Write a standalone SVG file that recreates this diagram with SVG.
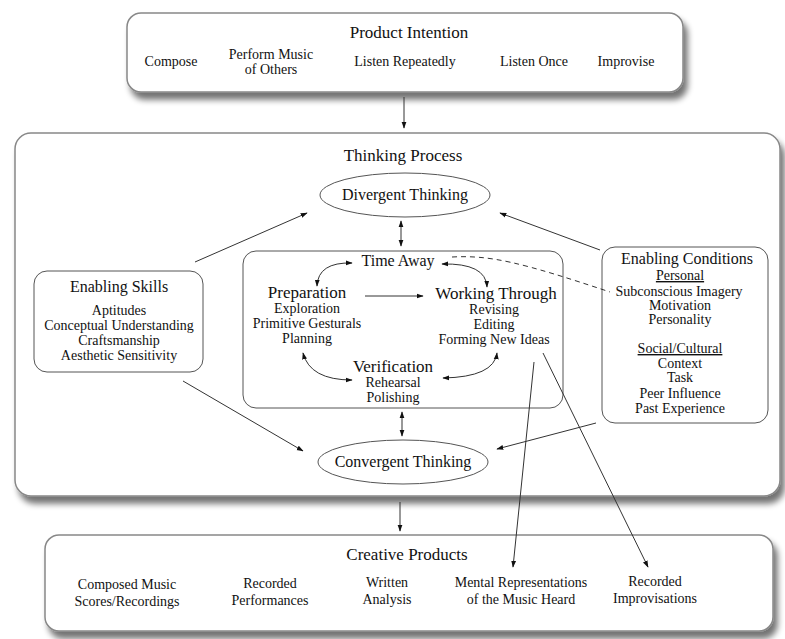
<svg xmlns="http://www.w3.org/2000/svg" width="785" height="639" viewBox="0 0 785 639" font-family="'Liberation Serif', 'DejaVu Serif', 'Times New Roman', serif">
<style>
text{font-family:"Liberation Serif","DejaVu Serif","Times New Roman",serif;fill:#111;text-anchor:middle}
.t17{font-size:17px}
.t16{font-size:16px}
.t14{font-size:14px}
.outer{fill:#fff;stroke:#888;stroke-width:1.5}
.inner{fill:#fff;stroke:#555;stroke-width:1}
.ln{fill:none;stroke:#333;stroke-width:1}
.arr{marker-end:url(#ah)}
.dbl{marker-end:url(#ah);marker-start:url(#ah)}
.u{text-decoration:underline}
</style>
<defs>
<marker id="ah" viewBox="0 0 10 10" refX="9" refY="5" markerWidth="7" markerHeight="7" orient="auto-start-reverse" markerUnits="userSpaceOnUse">
<path d="M0,1.5 L10,5 L0,8.5 z" fill="#111"/>
</marker>
<filter id="sh" x="-5%" y="-10%" width="115%" height="130%">
<feGaussianBlur in="SourceAlpha" stdDeviation="3"/>
<feOffset dx="4" dy="7" result="b"/>
<feComponentTransfer><feFuncA type="linear" slope="0.55"/></feComponentTransfer>
<feMerge><feMergeNode/><feMergeNode in="SourceGraphic"/></feMerge>
</filter>
</defs>

<g id="product-intention">
<rect class="outer" x="127" y="13" width="556" height="79" rx="14" filter="url(#sh)"/>
<text class="t17" x="409" y="38">Product Intention</text>
<text class="t14" x="171" y="66">Compose</text>
<text class="t14" x="271" y="59">Perform Music</text>
<text class="t14" x="271" y="74">of Others</text>
<text class="t14" x="405" y="66">Listen Repeatedly</text>
<text class="t14" x="534" y="66">Listen Once</text>
<text class="t14" x="626" y="66">Improvise</text>
</g>

<g id="thinking-process">
<rect class="outer" x="15" y="133" width="765" height="363" rx="16" filter="url(#sh)"/>
<text class="t17" x="403" y="161">Thinking Process</text>
</g>

<g id="divergent-thinking">
<ellipse class="inner" cx="405" cy="195" rx="85" ry="22"/>
<text class="t16" x="405" y="200">Divergent Thinking</text>
</g>

<g id="convergent-thinking">
<ellipse class="inner" cx="403" cy="462" rx="85" ry="22"/>
<text class="t16" x="403" y="467">Convergent Thinking</text>
</g>

<g id="creative-cycle">
<rect class="inner" x="243" y="251" width="320" height="157" rx="13"/>
</g>

<g id="time-away">
<text class="t16" x="398" y="266">Time Away</text>
</g>

<g id="preparation">
<text class="t17" x="307" y="298">Preparation</text>
<text class="t14" x="307" y="313">Exploration</text>
<text class="t14" x="307" y="328">Primitive Gesturals</text>
<text class="t14" x="307" y="343">Planning</text>
</g>

<g id="working-through">
<text class="t17" x="496" y="299">Working Through</text>
<text class="t14" x="494" y="314">Revising</text>
<text class="t14" x="494" y="329">Editing</text>
<text class="t14" x="494" y="344">Forming New Ideas</text>
</g>

<g id="verification">
<text class="t17" x="393" y="372">Verification</text>
<text class="t14" x="393" y="387">Rehearsal</text>
<text class="t14" x="393" y="402">Polishing</text>
</g>

<g id="enabling-skills">
<rect class="inner" x="34" y="271" width="169" height="101" rx="13"/>
<text class="t16" x="119" y="292">Enabling Skills</text>
<text class="t14" x="119" y="315">Aptitudes</text>
<text class="t14" x="119" y="330">Conceptual Understanding</text>
<text class="t14" x="119" y="345">Craftsmanship</text>
<text class="t14" x="119" y="360">Aesthetic Sensitivity</text>
</g>

<g id="enabling-conditions">
<rect class="inner" x="602" y="247" width="166" height="176" rx="13"/>
<text class="t16" x="687" y="264">Enabling Conditions</text>
<text class="t14 u" x="680" y="280">Personal</text>
<text class="t14" x="679" y="296">Subconscious Imagery</text>
<text class="t14" x="680" y="310">Motivation</text>
<text class="t14" x="680" y="324">Personality</text>
<text class="t14 u" x="680" y="353">Social/Cultural</text>
<text class="t14" x="680" y="368">Context</text>
<text class="t14" x="680" y="382">Task</text>
<text class="t14" x="680" y="398">Peer Influence</text>
<text class="t14" x="680" y="413">Past Experience</text>
</g>

<g id="creative-products">
<rect class="outer" x="45" y="535" width="728" height="96" rx="14" filter="url(#sh)"/>
<text class="t17" x="407" y="560">Creative Products</text>
<text class="t14" x="127" y="589">Composed Music</text>
<text class="t14" x="127" y="606">Scores/Recordings</text>
<text class="t14" x="270" y="588">Recorded</text>
<text class="t14" x="270" y="605">Performances</text>
<text class="t14" x="387" y="587">Written</text>
<text class="t14" x="387" y="604">Analysis</text>
<text class="t14" x="521" y="587">Mental Representations</text>
<text class="t14" x="521" y="604">of the Music Heard</text>
<text class="t14" x="655" y="586">Recorded</text>
<text class="t14" x="655" y="603">Improvisations</text>
</g>

<g id="connectors">
<line class="ln arr" x1="404" y1="97" x2="404" y2="128"/>
<line class="ln dbl" x1="401" y1="221" x2="401" y2="246"/>
<line class="ln dbl" x1="402" y1="412" x2="402" y2="436"/>
<line class="ln arr" x1="400" y1="502" x2="400" y2="531"/>
<line class="ln arr" x1="195" y1="262" x2="307" y2="213"/>
<line class="ln arr" x1="600" y1="250" x2="500" y2="213"/>
<line class="ln arr" x1="183" y1="381" x2="303" y2="451"/>
<line class="ln arr" x1="596" y1="423" x2="497" y2="449"/>
<line class="ln arr" x1="365" y1="296" x2="423" y2="296"/>
<path class="ln dbl" d="M352,263 Q318,262 317,286"/>
<path class="ln dbl" d="M442,264 Q486,263 487,287"/>
<path class="ln dbl" d="M303,353 Q310,380 352,380"/>
<path class="ln dbl" d="M443,378 Q494,377 497,353"/>
<path class="ln" d="M452,257 C490,255 520,262 610,292" stroke-dasharray="5,4" stroke-width="1.4"/>
<line class="ln arr" x1="534" y1="362" x2="513" y2="567"/>
<line class="ln arr" x1="543" y1="353" x2="648" y2="567"/>
</g>
</svg>
